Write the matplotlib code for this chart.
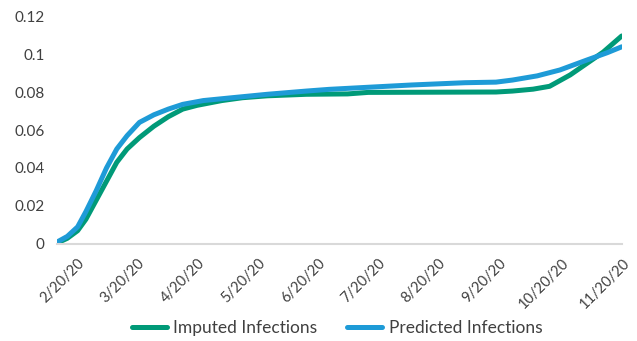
import datetime as dt
import numpy as np
import matplotlib
matplotlib.use("Agg")
import matplotlib.pyplot as plt
import matplotlib.dates as mdates

plt.rcParams['font.family'] = ['Lato', 'DejaVu Sans']

# imputed infections
imp_dates = ["2020-02-20", "2020-02-25", "2020-03-01", "2020-03-05", "2020-03-10",
             "2020-03-15", "2020-03-20", "2020-03-25", "2020-03-31", "2020-04-07",
             "2020-04-14", "2020-04-21", "2020-04-28", "2020-05-10", "2020-05-20",
             "2020-06-01", "2020-06-20", "2020-07-10", "2020-07-20", "2020-08-20",
             "2020-09-20", "2020-09-28", "2020-10-08", "2020-10-16", "2020-10-21",
             "2020-10-26", "2020-11-03", "2020-11-11", "2020-11-20"]
imp_vals = [0.0005, 0.003, 0.007, 0.013, 0.023,
            0.033, 0.043, 0.050, 0.056, 0.062,
            0.067, 0.071, 0.073, 0.0755, 0.077,
            0.078, 0.0788, 0.079, 0.0798, 0.0799,
            0.0800, 0.0805, 0.0815, 0.0830, 0.0860,
            0.0890, 0.0950, 0.1010, 0.1095]

# predicted infections
pred_dates = ["2020-02-20", "2020-02-25", "2020-03-01", "2020-03-05", "2020-03-10",
              "2020-03-15", "2020-03-20", "2020-03-25", "2020-03-31", "2020-04-07",
              "2020-04-14", "2020-04-21", "2020-05-01", "2020-05-15", "2020-06-01",
              "2020-06-20", "2020-07-01", "2020-07-20", "2020-08-10", "2020-09-05",
              "2020-09-20", "2020-09-28", "2020-10-10", "2020-10-21", "2020-11-03",
              "2020-11-13", "2020-11-20"]
pred_vals = [0.001, 0.004, 0.009, 0.017, 0.028,
             0.040, 0.050, 0.057, 0.064, 0.068,
             0.071, 0.0735, 0.0755, 0.077, 0.0788,
             0.0805, 0.0814, 0.0825, 0.0837, 0.0849,
             0.0852, 0.0863, 0.0885, 0.0916, 0.0968,
             0.1007, 0.1038]

tick_labels = ["2/20/20", "3/20/20", "4/20/20", "5/20/20", "6/20/20",
               "7/20/20", "8/20/20", "9/20/20", "10/20/20", "11/20/20"]

to_d = lambda s: dt.datetime.strptime(s, "%Y-%m-%d")
imp_x = [to_d(s) for s in imp_dates]
pred_x = [to_d(s) for s in pred_dates]

fig = plt.figure(figsize=(6.37, 3.41), dpi=100)
ax = fig.add_axes([0.0895, 0.2845, 0.8865, 0.6685])

ax.plot(imp_x, imp_vals, color="#009A78", lw=3.6, label="Imputed Infections",
        solid_capstyle="round")
ax.plot(pred_x, pred_vals, color="#1E9BD7", lw=3.6, label="Predicted Infections",
        solid_capstyle="round")

x0, x1 = mdates.date2num(imp_x[0]), mdates.date2num(imp_x[-1])
ax.set_xlim(x0, x1)
ax.set_ylim(0, 0.12)
ax.set_yticks([0, 0.02, 0.04, 0.06, 0.08, 0.1, 0.12])
ax.set_yticklabels(["0", "0.02", "0.04", "0.06", "0.08", "0.1", "0.12"])

# category-style labels, evenly spread like the spreadsheet axis
ax.set_xticks(np.linspace(x0 + (x1 - x0) * 5 / 565, x0 + (x1 - x0) * 548 / 565,
                          len(tick_labels)))
ax.set_xticklabels(tick_labels, rotation=45, ha="center", va="top")

for s in ["top", "right", "left"]:
    ax.spines[s].set_visible(False)
ax.spines["bottom"].set_color("#D9D9D9")
ax.spines["bottom"].set_linewidth(1.5)
ax.tick_params(axis="y", length=0, labelsize=11, colors="#404040", pad=9)
ax.tick_params(axis="x", length=0, labelsize=10.5, colors="#404040", pad=9)

leg = ax.legend(loc="center", bbox_to_anchor=(0.496, -0.368), ncol=2, frameon=False,
                fontsize=12.5, handlelength=2.0, handletextpad=0.4,
                columnspacing=1.7)
for t in leg.get_texts():
    t.set_color("#404040")

fig.savefig("out.png", dpi=100)
